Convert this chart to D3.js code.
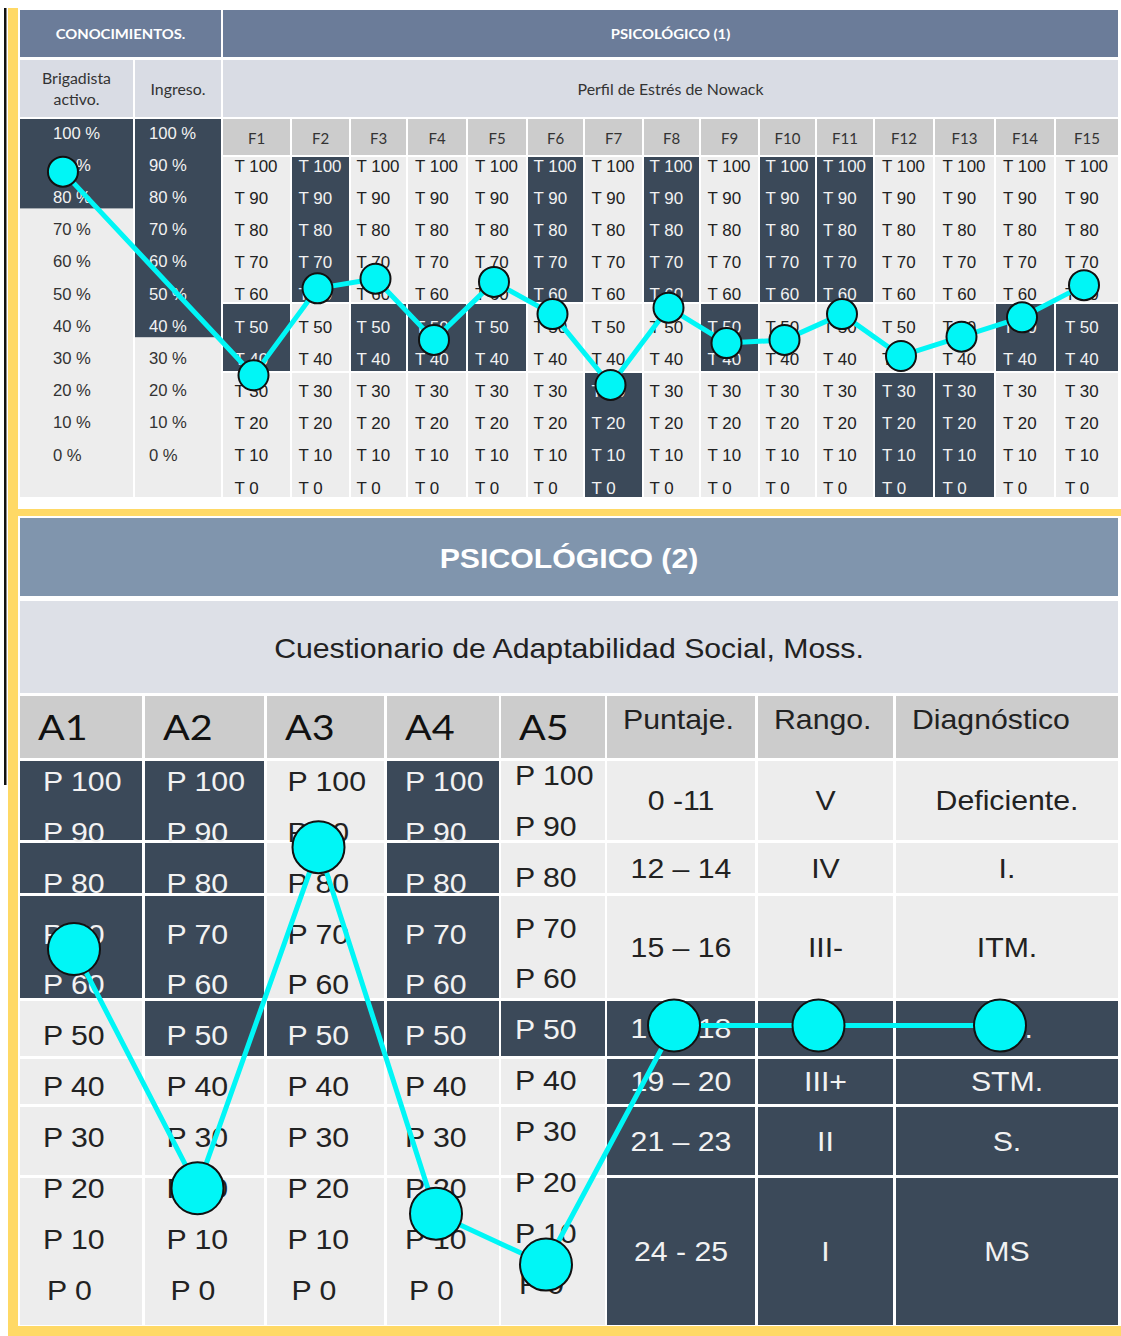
<!DOCTYPE html>
<html>
<head>
<meta charset="utf-8">
<script src="https://cdn.jsdelivr.net/npm/d3@7"></script>
<style>
  html, body { margin: 0; padding: 0; background: #fff; }
  svg { display: block; }
</style>
</head>
<body>
<svg id="chart" width="1121" height="1336"></svg>
<script>
// ---------- data: Conocimientos + Psicológico (1) ----------
const knowledgeColumns = ["Brigadista activo.", "Ingreso."];
const percentTicks = [100, 90, 80, 70, 60, 50, 40, 30, 20, 10, 0];
const knowledgeDarkFrom = [80, 40];          // shaded from 100 % down to this value
const brigadistaValue = 88;                  // %

const stressFactors = ["F1","F2","F3","F4","F5","F6","F7","F8","F9","F10","F11","F12","F13","F14","F15"];
const stressValues  = [35, 62, 65, 46, 64, 54, 32, 56, 45, 46, 54, 41, 47, 53, 63];
const stressBand    = ["mid","high","mid","mid","mid","high","low","high","mid","high","high","low","low","mid","mid"];
const tTicks = [100, 90, 80, 70, 60, 50, 40, 30, 20, 10, 0];

// ---------- data: Psicológico (2) ----------
const mossScales = ["A1", "A2", "A3", "A4", "A5"];
const mossValues = [67, 20, 87, 15, 5];
const pTicks = [100, 90, 80, 70, 60, 50, 40, 30, 20, 10, 0];
const mossRowGroups = [[100, 90], [80], [70, 60], [50], [40], [30], [20, 10, 0]];
const mossDarkRows = [[0, 1, 2], [0, 1, 2, 3], [3], [0, 1, 2, 3], [3]];

const scoreHeaders   = ["Puntaje.", "Rango.", "Diagnóstico"];
const scoreRanges    = ["0 -11", "12 – 14", "15 – 16", "17 – 18", "19 – 20", "21 – 23", "24 - 25"];
const scoreRanks     = ["V", "IV", "III-", "III", "III+", "II", "I"];
const scoreDiagnoses = ["Deficiente.", "I.", "ITM.", "TM.", "STM.", "S.", "MS"];
const scoreDarkFrom  = 3;                    // rows from "17 – 18" down are shaded
const scoreResult    = "17 – 18";

// ---------- styling ----------
const C = {
  dark: "#3b4959", light: "#ededed", head: "#cccccc",
  topHead: "#6b7c99", topSub: "#d9dce4",
  botHead: "#8095ad", botSub: "#dde0e7",
  yellow: "#ffd966", cyan: "#00f6f6",
  inkDark: "#222", inkLight: "#f2f2f2"
};
const fCal = "Lato, 'Open Sans', sans-serif";
const fAri = "'Liberation Sans', Arial, sans-serif";

const svg = d3.select("#chart");

// frame
svg.append("rect").attr("width", 1121).attr("height", 1336).attr("fill", "#fff");
svg.append("rect").attr("x", 4).attr("y", 8).attr("width", 2.5).attr("height", 777).attr("fill", "#111");
svg.append("rect").attr("x", 8).attr("y", 8).attr("width", 10).attr("height", 1328).attr("fill", C.yellow);
svg.append("rect").attr("x", 8).attr("y", 509).attr("width", 1113).attr("height", 7).attr("fill", C.yellow);
svg.append("rect").attr("x", 8).attr("y", 1326).attr("width", 1113).attr("height", 10).attr("fill", C.yellow);

function cell(g, x, y, w, h, fill) {
  return g.append("rect").attr("x", x).attr("y", y).attr("width", w).attr("height", h).attr("fill", fill);
}
// text with an optional horizontal stretch (sx) about its anchor point
function label(g, x, y, txt, o) {
  return g.append("text")
    .attr("transform", `translate(${x},${y}) scale(${o.sx || 1},1)`)
    .attr("dy", "0.35em")
    .attr("text-anchor", o.anchor || "middle")
    .attr("font-family", o.font || fAri).attr("font-size", o.size)
    .attr("font-weight", o.weight || "normal")
    .attr("fill", o.fill || C.inkDark).text(txt);
}

// =================== PSICOLÓGICO (1) ===================
const gTop = svg.append("g");

// header rows
cell(gTop, 20, 10, 201, 47, C.topHead);
cell(gTop, 223, 10, 895, 47, C.topHead);
label(gTop, 120.5, 34, "CONOCIMIENTOS.", {font: fCal, size: 14, weight: "bold", fill: "#fff", sx: 1.06});
label(gTop, 670.5, 34, "PSICOLÓGICO (1)", {font: fCal, size: 14, weight: "bold", fill: "#fff", sx: 1.06});

const knowX = d3.scaleOrdinal().domain(knowledgeColumns).range([[20, 133], [135, 221]]);
knowledgeColumns.forEach(k => cell(gTop, knowX(k)[0], 60, knowX(k)[1] - knowX(k)[0], 57, C.topSub));
cell(gTop, 223, 60, 895, 57, C.topSub);
label(gTop, 76.5, 79, "Brigadista", {font: fCal, size: 15, fill: "#333", sx: 1.06});
label(gTop, 76.5, 100, "activo.", {font: fCal, size: 15, fill: "#333", sx: 1.06});
label(gTop, 178, 90, "Ingreso.", {font: fCal, size: 15, fill: "#333", sx: 1.06});
label(gTop, 670.5, 90, "Perfil de Estrés de Nowack", {font: fCal, size: 15, fill: "#333", sx: 1.06});

// knowledge percentage columns
const pctY = d3.scaleLinear().domain([0, 100]).range([455, 133]);
knowledgeColumns.forEach((k, i) => {
  const [x0, x1] = knowX(k);
  const darkEnd = pctY(knowledgeDarkFrom[i]) + 11;
  cell(gTop, x0, 119, x1 - x0, 497 - 119, C.light);
  cell(gTop, x0, 119, x1 - x0, darkEnd - 119, C.dark);
  const lx = i === 0 ? 53 : 149;
  percentTicks.forEach(p => {
    const dark = pctY(p) < darkEnd;
    label(gTop, lx, pctY(p), p + " %", {anchor: "start", size: 16, sx: 1.04, fill: dark ? C.inkLight : "#333"});
  });
});

// stress profile columns
const fx = d3.scaleOrdinal().domain(stressFactors)
  .range([[223, 290], [292, 349], [351, 406], [408, 466], [468, 526], [528, 583], [585, 642], [644, 699],
          [701, 758], [760, 815], [817, 873], [875, 933], [935, 994], [996, 1054], [1056, 1118]]);
const fMid = f => (fx(f)[0] + fx(f)[1]) / 2;
const tY = d3.scaleLinear().domain([0, 100]).range([488, 166]);
const bandEdges = {high: [157, 302], mid: [304, 371], low: [373, 497]};
const bandOf = t => t >= 60 ? "high" : (t >= 40 ? "mid" : "low");

stressFactors.forEach((f, i) => {
  const [x, x1] = fx(f), w = x1 - x;
  cell(gTop, x, 119, w, 36, C.head);
  label(gTop, x + w / 2, 139, f, {font: fCal, size: 15, fill: "#333"});
  Object.keys(bandEdges).forEach(b => {
    const [y0, y1] = bandEdges[b];
    cell(gTop, x, y0, w, y1 - y0, b === stressBand[i] ? C.dark : C.light);
  });
  tTicks.forEach(t => {
    const dark = bandOf(t) === stressBand[i];
    label(gTop, x + w / 2 - 22, tY(t), "T " + t,
      {anchor: "start", size: 16, sx: 1.06, fill: dark ? C.inkLight : C.inkDark});
  });
});

// profile line
const brigX = knowX(knowledgeColumns[0]);
const topPts = [[brigX[0] + (brigX[1] - brigX[0]) * 0.38, pctY(brigadistaValue)]]
  .concat(stressFactors.map((f, i) => [fMid(f) - 3, tY(stressValues[i])]));
gTop.append("path").attr("d", d3.line()(topPts))
  .attr("fill", "none").attr("stroke", C.cyan).attr("stroke-width", 5).attr("stroke-linejoin", "round");
gTop.selectAll("circle.pt").data(topPts).join("circle").attr("class", "pt")
  .attr("cx", d => d[0]).attr("cy", d => d[1]).attr("r", 15)
  .attr("fill", C.cyan).attr("stroke", "#111").attr("stroke-width", 2);

// =================== PSICOLÓGICO (2) ===================
const gBot = svg.append("g");
const SX = 1.08;
cell(gBot, 20, 518, 1098, 78, C.botHead);
label(gBot, 569, 558, "PSICOLÓGICO (2)", {size: 28, weight: "bold", fill: "#fff", sx: SX});
cell(gBot, 20, 601, 1098, 92, C.botSub);
label(gBot, 569, 648, "Cuestionario de Adaptabilidad Social, Moss.", {size: 28, fill: "#222", sx: SX});

const colEdges = d3.scaleOrdinal()
  .domain(mossScales.concat(scoreHeaders))
  .range([[20, 142], [145, 264], [267, 384], [387, 499], [501, 605], [607, 755], [758, 893], [896, 1118]]);
const colMid = c => (colEdges(c)[0] + colEdges(c)[1]) / 2;
const rowEdges = [761, 843, 896, 1001, 1059, 1107, 1178, 1328];
const rowTop = r => rowEdges[r], rowBot = r => rowEdges[r + 1] - 3;
const rowMid = r => (rowTop(r) + rowBot(r)) / 2;
const pY = d3.scaleLinear().domain([0, 100]).range([1290, 781]);

// column headers
mossScales.forEach(a => {
  const [x0, x1] = colEdges(a);
  cell(gBot, x0, 696, x1 - x0, 62, C.head);
  label(gBot, x0 + 18, 728, a, {anchor: "start", font: fCal, size: 35, fill: "#111", sx: 1.13});
});
scoreHeaders.forEach(h => {
  const [x0, x1] = colEdges(h);
  cell(gBot, x0, 696, x1 - x0, 62, C.head);
  label(gBot, x0 + 16, 719, h, {anchor: "start", size: 28, fill: "#222", sx: SX});
});

// Moss A-scale columns
mossScales.forEach((a, i) => {
  const [x0, x1] = colEdges(a);
  const w = x1 - x0;
  const shift = i === mossScales.length - 1 ? -6 : 0;
  mossRowGroups.forEach((g, r) => {
    cell(gBot, x0, rowTop(r), w, rowBot(r) - rowTop(r), mossDarkRows[i].includes(r) ? C.dark : C.light);
  });
  pTicks.forEach(p => {
    const r = mossRowGroups.findIndex(g => g.includes(p));
    const dark = mossDarkRows[i].includes(r);
    label(gBot, x0 + (w - 76) / 2 + (p === 0 ? 4 : 0), pY(p) + shift, "P " + p,
      {anchor: "start", size: 28, sx: SX, fill: dark ? C.inkLight : C.inkDark});
  });
});

// score / rank / diagnosis table
const scoreCols = [scoreRanges, scoreRanks, scoreDiagnoses];
scoreHeaders.forEach((h, c) => {
  const [x0, x1] = colEdges(h);
  scoreCols[c].forEach((txt, r) => {
    const dark = r >= scoreDarkFrom;
    cell(gBot, x0, rowTop(r), x1 - x0, rowBot(r) - rowTop(r), dark ? C.dark : C.light);
    label(gBot, (x0 + x1) / 2, rowMid(r), txt, {size: 28, sx: SX, fill: dark ? C.inkLight : C.inkDark});
  });
});

// adaptability profile line
const resRow = scoreRanges.indexOf(scoreResult);
const botPts = mossScales.map((a, i) => [colMid(a) - 7, pY(mossValues[i])])
  .concat(scoreHeaders.map(h => [colMid(h) - 7, rowMid(resRow) - 3]));
gBot.append("path").attr("d", d3.line()(botPts))
  .attr("fill", "none").attr("stroke", C.cyan).attr("stroke-width", 5).attr("stroke-linejoin", "round");
gBot.selectAll("circle.pt").data(botPts).join("circle").attr("class", "pt")
  .attr("cx", d => d[0]).attr("cy", d => d[1]).attr("r", 26)
  .attr("fill", C.cyan).attr("stroke", "#111").attr("stroke-width", 2);
</script>
</body>
</html>
